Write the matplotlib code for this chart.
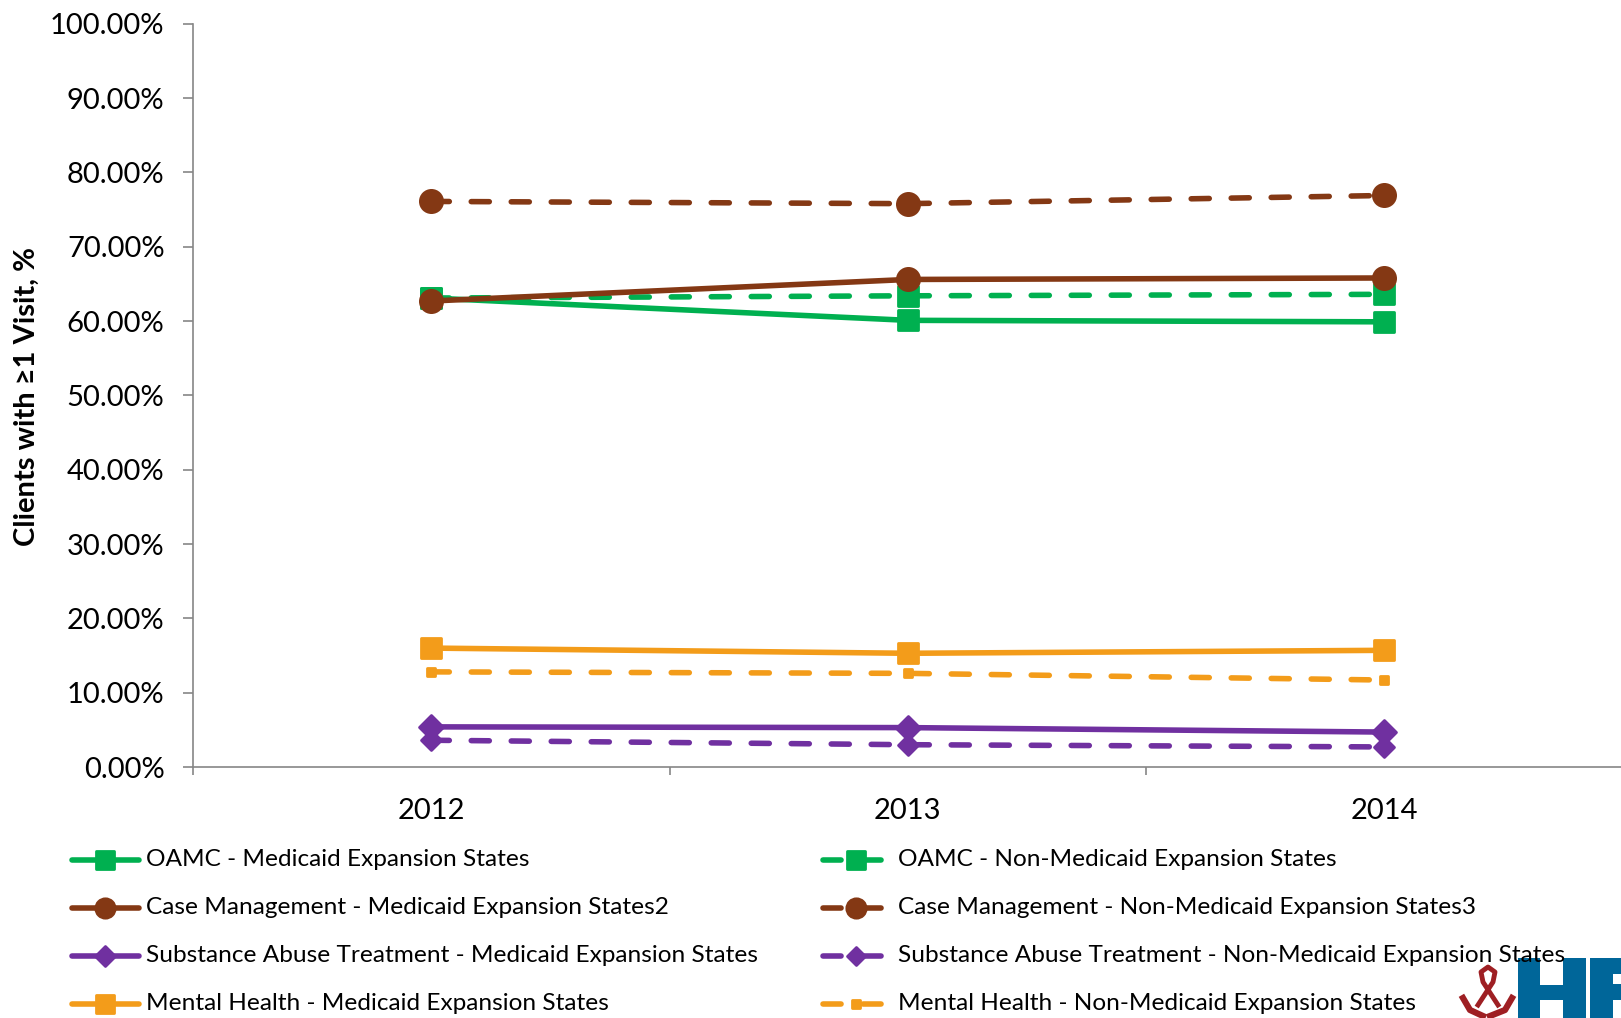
import matplotlib
matplotlib.use('Agg')
import matplotlib.pyplot as plt
from matplotlib.lines import Line2D
from matplotlib.markers import MarkerStyle
from matplotlib.patches import Rectangle

plt.rcParams['font.family'] = ['Lato', 'DejaVu Sans']
plt.rcParams['lines.scale_dashes'] = False

W, H = 1621, 1018

years = ['2012', '2013', '2014']
oamc_me = [63.1, 60.1, 59.9]
oamc_non = [63.1, 63.4, 63.6]
cm_me = [62.7, 65.6, 65.8]
cm_non = [76.1, 75.8, 76.9]
sa_me = [5.4, 5.3, 4.7]
sa_non = [3.6, 3.0, 2.7]
mh_me = [16.0, 15.3, 15.7]
mh_non = [12.8, 12.6, 11.7]

GREEN = '#00B050'
BROWN = '#843814'
PURPLE = '#7030A0'
ORANGE = '#F39C1A'
DASH = (0, (13, 15.8))

# label, values, colour, marker, marker size, dashed
series = [
    ('OAMC - Medicaid Expansion States', oamc_me, GREEN, 's', 15, False),
    ('OAMC - Non-Medicaid Expansion States', oamc_non, GREEN, 's', 15, True),
    ('Case Management - Medicaid Expansion States2', cm_me, BROWN, 'o', 16, False),
    ('Case Management - Non-Medicaid Expansion States3', cm_non, BROWN, 'o', 16, True),
    ('Substance Abuse Treatment - Medicaid Expansion States', sa_me, PURPLE, 'D', 12, False),
    ('Substance Abuse Treatment - Non-Medicaid Expansion States', sa_non, PURPLE, 'D', 10, True),
    ('Mental Health - Medicaid Expansion States', mh_me, ORANGE, 's', 15, False),
    ('Mental Health - Non-Medicaid Expansion States', mh_non, ORANGE, 's', 6, True),
]

fig = plt.figure(figsize=(W / 100, H / 100), dpi=100)
ax = fig.add_axes([193 / W, 1 - 767 / H, 1429.5 / W, (767 - 23.8) / H])


def style(color, marker, ms, dashed):
    return dict(color=color, lw=4, marker=MarkerStyle(marker, joinstyle='round'), ms=ms,
                mfc=color, mec=color, mew=2, ls=DASH if dashed else '-',
                dash_capstyle='round', solid_capstyle='round', dash_joinstyle='round')


# oamc first so case management sits over it, as in the original
for label, vals, color, marker, ms, dashed in series:
    ax.plot(range(3), vals, label=label, clip_on=False, **style(color, marker, ms, dashed))

ax.set_xlim(-0.5, 2.5)
ax.set_ylim(0, 100)
ax.set_yticks(range(0, 101, 10))
ax.set_yticklabels([f'{v}.00%' for v in range(0, 101, 10)])
ax.set_xticks([-0.5, 0.5, 1.5, 2.5])
ax.set_xticklabels([])
ax.set_xticks(range(3), labels=years, minor=True)
ax.tick_params(axis='x', which='minor', length=0, labelsize=21, pad=22, labelcolor='black')
ax.tick_params(axis='x', which='major', length=6, color='#868686', width=1.2)
ax.tick_params(axis='y', length=7, color='#868686', width=1.2, labelsize=21, pad=13.5)
for s in ['top', 'right']:
    ax.spines[s].set_visible(False)
for s in ['left', 'bottom']:
    ax.spines[s].set_color('#868686')
    ax.spines[s].set_linewidth(1.2)

fig.text(27 / W, 1 - 396 / H, 'Clients with ≥1 Visit, %', rotation=90, fontsize=21,
         fontweight='bold', ha='center', va='center')


def px(x, y):
    return x / W, 1 - y / H


# legend by hand, the two columns are not the same width in the original
rows_y = [860, 908, 956, 1004]
for i, (label, vals, color, marker, ms, dashed) in enumerate(series):
    y = rows_y[i // 2]
    if dashed:
        x0, x1, xm, xt = 823, 882, 856, 898
    else:
        x0, x1, xm, xt = 72, 139, 105, 146
    ys = px(x0, y)[1]
    kw = style(color, 'None', ms, dashed)
    fig.add_artist(Line2D([px(x0, y)[0], px(x1, y)[0]], [ys, ys], transform=fig.transFigure, **kw))
    kw = style(color, marker, ms * 0.87, False)
    kw['ls'] = 'None'
    fig.add_artist(Line2D([px(xm, y)[0]], [ys], transform=fig.transFigure, **kw))
    fig.text(xt / W, ys, label, fontsize=17.6, va='center', ha='left', color='black', zorder=5)

# logo in the corner, cut off by the edge of the slide
LOGO_BLUE = '#006699'
LOGO_RED = '#9E1F23'
logo_boxes = [(1518, 958, 22, 60), (1563, 958, 23, 60), (1540, 985, 23, 15),
              (1590, 958, 23, 60), (1613, 958, 8, 16), (1613, 984, 8, 16)]
for x, y, w, h in logo_boxes:
    fig.add_artist(Rectangle(px(x, y + h), w / W, h / H, transform=fig.transFigure,
                             fc=LOGO_BLUE, ec='none', zorder=1))
ribbon = [(1478, 1005), (1493, 982), (1495, 972), (1488, 967), (1481, 972), (1483, 982), (1498, 1005)]
fig.add_artist(Line2D([px(*p)[0] for p in ribbon], [px(*p)[1] for p in ribbon], color=LOGO_RED,
                      lw=3.5, transform=fig.transFigure, solid_joinstyle='round'))
for hand in ([(1463, 998), (1470, 1010), (1483, 1016)], [(1512, 998), (1505, 1010), (1490, 1016)]):
    fig.add_artist(Line2D([px(*p)[0] for p in hand], [px(*p)[1] for p in hand], color=LOGO_RED,
                          lw=4.5, transform=fig.transFigure, solid_joinstyle='round'))

fig.savefig('out.png', dpi=100)
